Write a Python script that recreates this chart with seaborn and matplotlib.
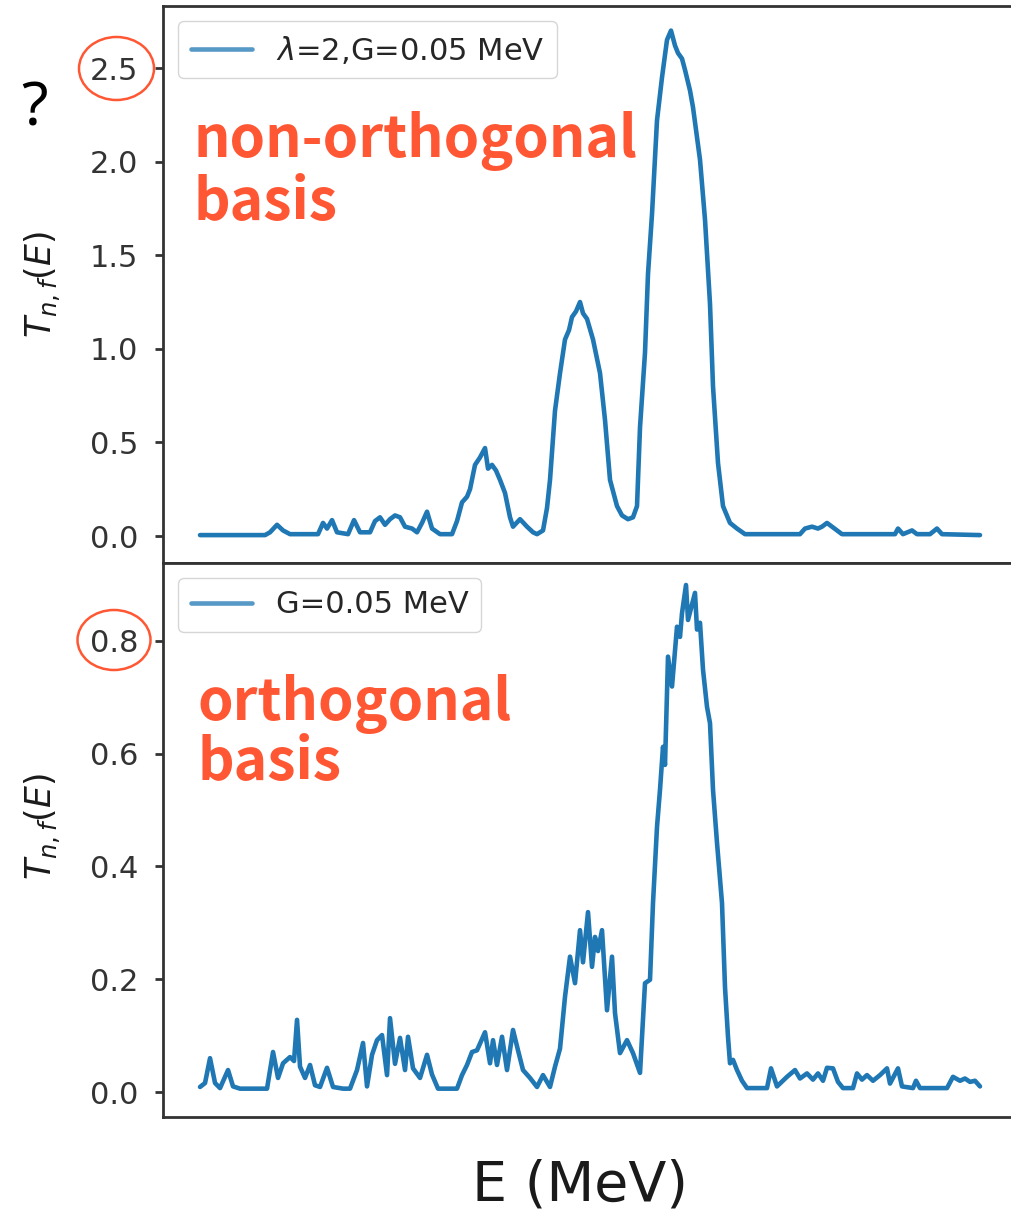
import numpy as np
import pandas as pd
import matplotlib.pyplot as plt
from matplotlib.patches import Ellipse
import seaborn as sns

# energies (MeV) and transmission
e_nonortho = [0.00, 0.65, 0.70, 0.77, 0.83, 0.90, 1.18, 1.23, 1.27, 1.32,
              1.37, 1.48, 1.54, 1.60, 1.70, 1.75, 1.80, 1.85, 1.90, 1.95,
              2.00, 2.05, 2.12, 2.17, 2.22, 2.27, 2.32, 2.40, 2.52, 2.57,
              2.62, 2.67, 2.70, 2.75, 2.80, 2.85, 2.88, 2.92, 2.96, 3.00,
              3.05, 3.10, 3.13, 3.20, 3.27, 3.33, 3.37, 3.43, 3.47, 3.50,
              3.55, 3.60, 3.65, 3.69, 3.72, 3.76, 3.80, 3.83, 3.87, 3.93,
              4.00, 4.05, 4.10, 4.17, 4.22, 4.28, 4.33, 4.37, 4.40, 4.45,
              4.48, 4.52, 4.57, 4.62, 4.67, 4.71, 4.75, 4.78, 4.82, 4.85,
              4.90, 4.93, 5.00, 5.05, 5.10, 5.13, 5.18, 5.23, 5.30, 5.37,
              5.45, 6.00, 6.05, 6.12, 6.18, 6.22, 6.27, 6.32, 6.37, 6.42,
              6.95, 6.98, 7.03, 7.12, 7.17, 7.30, 7.37, 7.42, 7.80]
t_nonortho = [0.005, 0.005, 0.02, 0.06, 0.03, 0.01, 0.01, 0.07, 0.04, 0.085,
              0.02, 0.01, 0.085, 0.02, 0.02, 0.08, 0.10, 0.06, 0.09, 0.11,
              0.10, 0.05, 0.04, 0.02, 0.07, 0.13, 0.04, 0.01, 0.01, 0.08,
              0.18, 0.21, 0.25, 0.38, 0.42, 0.47, 0.36, 0.38, 0.35, 0.30,
              0.23, 0.10, 0.05, 0.09, 0.05, 0.02, 0.01, 0.03, 0.15, 0.30,
              0.67, 0.87, 1.05, 1.10, 1.17, 1.20, 1.25, 1.19, 1.16, 1.05,
              0.87, 0.62, 0.30, 0.16, 0.11, 0.09, 0.10, 0.16, 0.58, 0.98,
              1.40, 1.72, 2.22, 2.45, 2.65, 2.70, 2.62, 2.58, 2.55, 2.49,
              2.38, 2.29, 2.01, 1.69, 1.24, 0.80, 0.39, 0.16, 0.07, 0.04,
              0.01, 0.01, 0.04, 0.05, 0.04, 0.05, 0.07, 0.05, 0.03, 0.01,
              0.01, 0.04, 0.01, 0.03, 0.01, 0.01, 0.04, 0.01, 0.005]

e_ortho = [0.00, 0.05, 0.10, 0.15, 0.20, 0.28, 0.33, 0.40, 0.67, 0.73,
           0.78, 0.83, 0.90, 0.94, 0.97, 1.00, 1.05, 1.10, 1.15, 1.20,
           1.27, 1.33, 1.43, 1.50, 1.57, 1.63, 1.67, 1.72, 1.77, 1.82,
           1.87, 1.90, 1.95, 2.00, 2.05, 2.08, 2.13, 2.20, 2.27, 2.32,
           2.38, 2.57, 2.62, 2.67, 2.72, 2.77, 2.85, 2.90, 2.93, 2.97,
           3.02, 3.07, 3.13, 3.18, 3.23, 3.30, 3.37, 3.43, 3.50, 3.55,
           3.60, 3.65, 3.70, 3.75, 3.80, 3.83, 3.88, 3.92, 3.95, 3.98,
           4.02, 4.07, 4.12, 4.15, 4.20, 4.27, 4.33, 4.40, 4.45, 4.50,
           4.53, 4.57, 4.60, 4.63, 4.65, 4.68, 4.72, 4.77, 4.80, 4.82,
           4.86, 4.88, 4.92, 4.95, 4.97, 5.00, 5.03, 5.07, 5.10, 5.13,
           5.17, 5.22, 5.25, 5.28, 5.30, 5.33, 5.37, 5.42, 5.47, 5.67,
           5.71, 5.77, 5.87, 5.95, 6.00, 6.07, 6.13, 6.18, 6.23, 6.27,
           6.33, 6.38, 6.43, 6.53, 6.57, 6.62, 6.67, 6.73, 6.80, 6.87,
           6.90, 6.98, 7.02, 7.13, 7.16, 7.20, 7.47, 7.53, 7.60, 7.65,
           7.70, 7.75, 7.80]
t_ortho = [0.009, 0.016, 0.060, 0.016, 0.007, 0.039, 0.010, 0.006, 0.006, 0.071,
           0.025, 0.051, 0.062, 0.055, 0.128, 0.045, 0.025, 0.048, 0.012, 0.009,
           0.043, 0.009, 0.006, 0.006, 0.039, 0.087, 0.010, 0.066, 0.092, 0.101,
           0.030, 0.131, 0.050, 0.096, 0.039, 0.098, 0.042, 0.025, 0.066, 0.031,
           0.006, 0.006, 0.030, 0.048, 0.071, 0.074, 0.106, 0.051, 0.092, 0.048,
           0.098, 0.039, 0.110, 0.074, 0.039, 0.025, 0.009, 0.030, 0.009, 0.045,
           0.077, 0.169, 0.240, 0.193, 0.287, 0.230, 0.319, 0.222, 0.275, 0.250,
           0.287, 0.145, 0.240, 0.140, 0.069, 0.092, 0.069, 0.034, 0.193, 0.199,
           0.335, 0.470, 0.536, 0.612, 0.580, 0.772, 0.719, 0.825, 0.807, 0.849,
           0.899, 0.837, 0.864, 0.885, 0.820, 0.832, 0.749, 0.683, 0.654, 0.536,
           0.442, 0.335, 0.186, 0.098, 0.051, 0.057, 0.039, 0.020, 0.007, 0.007,
           0.042, 0.010, 0.027, 0.039, 0.024, 0.033, 0.022, 0.033, 0.020, 0.043,
           0.042, 0.018, 0.007, 0.007, 0.033, 0.022, 0.030, 0.020, 0.030, 0.042,
           0.015, 0.042, 0.010, 0.007, 0.020, 0.007, 0.007, 0.027, 0.020, 0.024,
           0.018, 0.020, 0.010]

label_nonortho = r"$\lambda$=2,G=0.05 MeV"
label_ortho = "G=0.05 MeV"
ticks_nonortho = [0.0, 0.5, 1.0, 1.5, 2.0, 2.5]
ticks_ortho = [0.0, 0.2, 0.4, 0.6, 0.8]

df_top = pd.DataFrame({"E": e_nonortho, "T": t_nonortho})
df_bot = pd.DataFrame({"E": e_ortho, "T": t_ortho})

sns.set_theme(style="ticks")
plt.rcParams.update({
    "axes.linewidth": 2.0,
    "axes.edgecolor": ".2",
    "ytick.major.size": 6,
    "ytick.major.width": 2.0,
    "ytick.major.pad": 12,
    "ytick.labelsize": 22,
    "ytick.color": ".2",
    "legend.fontsize": 22,
})

fig = plt.figure(figsize=(10.12, 12.11), dpi=100)
ax1 = fig.add_axes([0.1611, 0.5351, 0.8458, 0.4599])
ax2 = fig.add_axes([0.1611, 0.0776, 0.8458, 0.4575])

red = "#ff5733"
red_font = ["Noto Sans CJK JP", "DejaVu Sans"]
for ax, df, lab, ticks, ylim, ly in [
    (ax1, df_top, label_nonortho, ticks_nonortho, (-0.144, 2.831), 0.5),
    (ax2, df_bot, label_ortho, ticks_ortho, (-0.0443, 0.938), 0.525),
]:
    sns.lineplot(data=df, x="E", y="T", ax=ax, color="#1f77b4", lw=3.3,
                 label=lab, estimator=None, sort=False)
    ax.set_xlim(-0.37, 8.19)
    ax.set_ylim(*ylim)
    ax.set_xticks([])
    ax.set_yticks(ticks)
    ax.yaxis.set_major_formatter("{x:.1f}")
    ax.set_xlabel("")
    ax.set_ylabel(r"$T_{n,f}(E)$", fontsize=25, color=".1")
    ax.yaxis.set_label_coords(-0.117, ly)
    leg = ax.legend(loc="upper left", fontsize=22)
    leg.legend_handles[0].set_alpha(0.75)

# red annotations, one line at a time (x px, baseline px, text)
notes = [(193, 157, "non-orthogonal"), (193, 220, "basis"),
         (198, 720, "orthogonal"), (198, 780, "basis")]
for px, py, s in notes:
    fig.text(px / 1012, 1 - py / 1211, s, color=red, fontsize=41,
             fontweight="bold", family=red_font, va="baseline", ha="left")

fig.add_artist(Ellipse((116.5 / 1012, 1 - 68.5 / 1211), 75 / 1012, 63 / 1211,
                       transform=fig.transFigure, fill=False, ec=red, lw=1.8))
fig.add_artist(Ellipse((114 / 1012, 1 - 640 / 1211), 73 / 1012, 60 / 1211,
                       transform=fig.transFigure, fill=False, ec=red, lw=1.8))

fig.text(35 / 1012, 1 - 110 / 1211, "?", fontsize=44, family="Noto Sans",
         ha="center", va="center", color="black")
fig.text(580 / 1012, 1 - 1186 / 1211, "E (MeV)", fontsize=40,
         ha="center", va="center", color=".1")

fig.savefig("out.png", dpi=100)
